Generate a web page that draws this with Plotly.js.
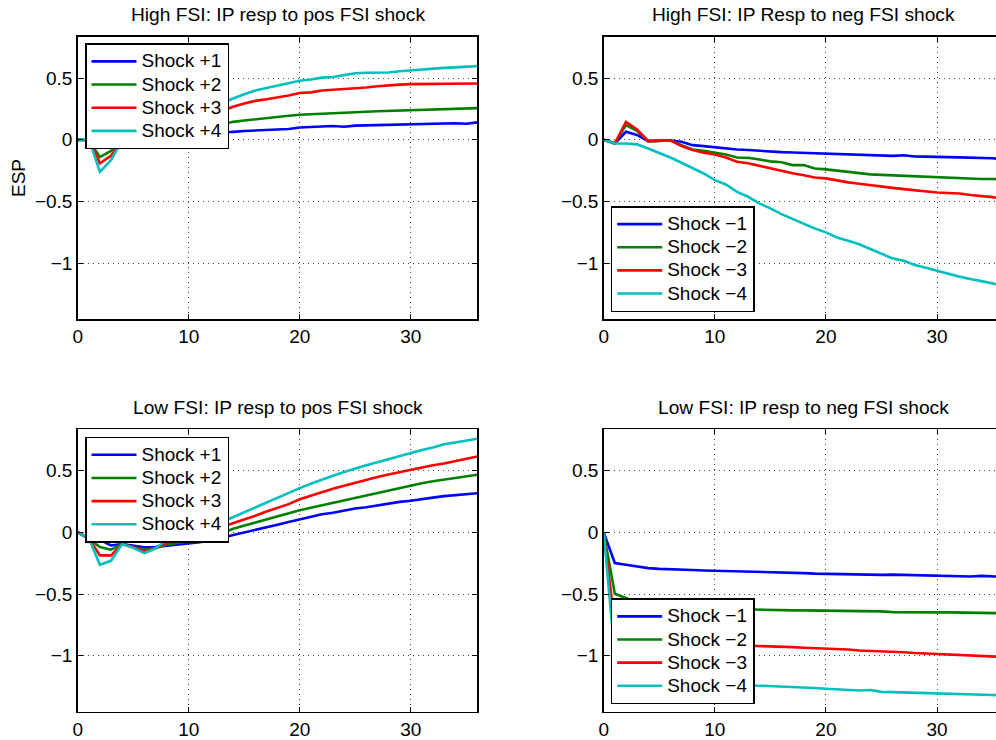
<!DOCTYPE html>
<html>
<head>
<meta charset="utf-8">
<script src="https://cdn.plot.ly/plotly-3.0.1.min.js"></script>
<style>
html,body{margin:0;padding:0;overflow:hidden;background:#fff;}
#chart{width:1004px;height:740px;}
</style>
</head>
<body>
<div id="chart"></div>
<script>
// horizon (months)
const horizon = [0,1,2,3,4,5,6,7,8,9,10,11,12,13,14,15,16,17,18,19,20,21,22,23,24,25,26,27,28,29,30,31,32,33,34,35,36];

const posNames = ["Shock +1","Shock +2","Shock +3","Shock +4"];
const negNames = ["Shock \u22121","Shock \u22122","Shock \u22123","Shock \u22124"];
const titles = [
  "High FSI: IP resp to pos FSI shock",
  "High FSI: IP Resp to neg FSI shock",
  "Low FSI: IP resp to pos FSI shock",
  "Low FSI: IP resp to neg FSI shock"
];
const yLabel = "ESP";
const xTicks = [0,10,20,30];
const yTicks = [-1,-0.5,0,0.5];

// High FSI, positive shocks
const highPos1 = [0,0,-0.065,-0.035,0,-0.005,-0.01,0,0.01,0.02,0.03,0.04,0.05,0.057,0.065,0.072,0.077,0.082,0.087,0.088,0.10,0.104,0.108,0.112,0.106,0.115,0.117,0.12,0.118,0.122,0.127,0.128,0.13,0.133,0.134,0.13,0.142];
const highPos2 = [0,0,-0.14,-0.09,-0.005,-0.01,-0.015,0,0.02,0.04,0.06,0.08,0.10,0.12,0.146,0.157,0.168,0.177,0.187,0.195,0.203,0.208,0.214,0.217,0.22,0.225,0.228,0.232,0.235,0.239,0.243,0.245,0.247,0.249,0.25,0.253,0.257];
const highPos3 = [0,0.005,-0.19,-0.13,-0.005,-0.01,-0.02,0.02,0.05,0.09,0.13,0.17,0.20,0.235,0.268,0.295,0.316,0.33,0.344,0.36,0.38,0.385,0.40,0.405,0.412,0.42,0.425,0.435,0.444,0.448,0.452,0.453,0.453,0.454,0.452,0.455,0.457];
const highPos4 = [0,0.01,-0.26,-0.165,-0.005,-0.02,-0.03,0.02,0.07,0.12,0.17,0.22,0.26,0.30,0.336,0.37,0.40,0.42,0.44,0.46,0.48,0.49,0.505,0.51,0.525,0.54,0.545,0.547,0.547,0.557,0.565,0.57,0.575,0.584,0.588,0.593,0.598];

// High FSI, negative shocks
const highNeg1 = [0,-0.03,0.065,0.04,-0.01,-0.005,-0.005,-0.015,-0.043,-0.051,-0.062,-0.07,-0.078,-0.083,-0.09,-0.098,-0.1,-0.103,-0.106,-0.108,-0.115,-0.113,-0.117,-0.12,-0.123,-0.126,-0.13,-0.125,-0.135,-0.136,-0.14,-0.14,-0.142,-0.143,-0.146,-0.15,-0.157];
const highNeg2 = [0,-0.03,0.12,0.073,-0.01,-0.005,-0.005,-0.043,-0.078,-0.089,-0.102,-0.119,-0.143,-0.146,-0.16,-0.175,-0.182,-0.205,-0.205,-0.232,-0.24,-0.25,-0.26,-0.275,-0.28,-0.284,-0.288,-0.295,-0.298,-0.302,-0.305,-0.31,-0.313,-0.317,-0.318,-0.318,-0.322];
const highNeg3 = [0,-0.03,0.146,0.084,-0.01,-0.005,-0.005,-0.05,-0.083,-0.105,-0.119,-0.143,-0.178,-0.19,-0.212,-0.232,-0.252,-0.272,-0.288,-0.305,-0.313,-0.33,-0.345,-0.357,-0.37,-0.38,-0.39,-0.40,-0.41,-0.42,-0.428,-0.432,-0.436,-0.448,-0.455,-0.465,-0.48];
const highNeg4 = [0,-0.03,-0.03,-0.037,-0.07,-0.105,-0.143,-0.186,-0.232,-0.273,-0.327,-0.362,-0.422,-0.462,-0.516,-0.556,-0.603,-0.643,-0.684,-0.719,-0.751,-0.792,-0.819,-0.848,-0.886,-0.921,-0.962,-0.981,-1.016,-1.038,-1.062,-1.089,-1.11,-1.129,-1.145,-1.165,-1.187];

// Low FSI, positive shocks
const lowPos1 = [0,-0.05,-0.06,-0.105,-0.094,-0.11,-0.121,-0.118,-0.11,-0.1,-0.092,-0.08,-0.062,-0.045,-0.02,0,0.018,0.04,0.062,0.085,0.108,0.125,0.148,0.16,0.18,0.195,0.205,0.22,0.235,0.248,0.258,0.268,0.283,0.295,0.302,0.308,0.318];
const lowPos2 = [0,-0.05,-0.118,-0.14,-0.094,-0.12,-0.14,-0.127,-0.097,-0.086,-0.073,-0.05,-0.03,-0.005,0.03,0.055,0.08,0.105,0.13,0.16,0.18,0.2,0.22,0.24,0.26,0.28,0.3,0.32,0.345,0.365,0.385,0.4,0.415,0.428,0.44,0.455,0.468];
const lowPos3 = [0,-0.045,-0.186,-0.186,-0.094,-0.12,-0.153,-0.127,-0.086,-0.073,-0.045,-0.015,0.01,0.04,0.076,0.105,0.135,0.17,0.2,0.23,0.27,0.3,0.33,0.355,0.38,0.405,0.425,0.45,0.47,0.49,0.51,0.528,0.545,0.56,0.58,0.6,0.616];
const lowPos4 = [0,-0.045,-0.262,-0.23,-0.094,-0.125,-0.167,-0.13,-0.059,-0.045,-0.02,0.01,0.045,0.085,0.125,0.165,0.205,0.24,0.285,0.32,0.36,0.395,0.43,0.46,0.49,0.52,0.545,0.57,0.595,0.625,0.648,0.67,0.69,0.715,0.73,0.745,0.76];

// Low FSI, negative shocks
const lowNeg1 = [0,-0.248,-0.262,-0.275,-0.289,-0.295,-0.3,-0.303,-0.305,-0.308,-0.31,-0.316,-0.318,-0.318,-0.32,-0.322,-0.325,-0.322,-0.33,-0.334,-0.336,-0.336,-0.338,-0.34,-0.344,-0.344,-0.342,-0.344,-0.348,-0.347,-0.352,-0.352,-0.356,-0.357,-0.352,-0.358,-0.36];
const lowNeg2 = [0,-0.497,-0.532,-0.567,-0.578,-0.594,-0.602,-0.608,-0.612,-0.615,-0.618,-0.62,-0.622,-0.625,-0.627,-0.63,-0.635,-0.632,-0.632,-0.633,-0.632,-0.634,-0.636,-0.635,-0.637,-0.64,-0.646,-0.645,-0.644,-0.647,-0.648,-0.648,-0.65,-0.653,-0.651,-0.655,-0.655];
const lowNeg3 = [0,-0.75,-0.8,-0.845,-0.865,-0.88,-0.89,-0.897,-0.902,-0.906,-0.91,-0.913,-0.916,-0.918,-0.922,-0.925,-0.928,-0.93,-0.935,-0.938,-0.945,-0.948,-0.95,-0.958,-0.96,-0.965,-0.97,-0.972,-0.978,-0.982,-0.99,-0.992,-0.995,-0.997,-1.0,-1.005,-1.01];
const lowNeg4 = [0,-1.0,-1.07,-1.13,-1.16,-1.185,-1.2,-1.21,-1.218,-1.225,-1.23,-1.235,-1.238,-1.24,-1.243,-1.246,-1.25,-1.255,-1.26,-1.262,-1.268,-1.272,-1.276,-1.282,-1.278,-1.293,-1.295,-1.297,-1.3,-1.305,-1.308,-1.31,-1.309,-1.312,-1.315,-1.318,-1.322];

const colors = ["#0000ff","#008000","#ff0000","#00bfbf"];
const FONT = "Liberation Sans, Arial, Helvetica, sans-serif";
const TXT = 19;

const panels = [
  {series:[highPos1,highPos2,highPos3,highPos4], names:posNames, xa:"x",  ya:"y",  lg:"legend"},
  {series:[highNeg1,highNeg2,highNeg3,highNeg4], names:negNames, xa:"x2", ya:"y2", lg:"legend2"},
  {series:[lowPos1,lowPos2,lowPos3,lowPos4],     names:posNames, xa:"x3", ya:"y3", lg:"legend3"},
  {series:[lowNeg1,lowNeg2,lowNeg3,lowNeg4],     names:negNames, xa:"x4", ya:"y4", lg:"legend4"}
];

const traces = [];
panels.forEach(p => {
  p.series.forEach((s, i) => {
    traces.push({
      x: horizon, y: s, type: "scatter", mode: "lines",
      name: '<span style="font-size:' + TXT + 'px">' + p.names[i] + '</span>',
      xaxis: p.xa, yaxis: p.ya, legend: p.lg,
      line: {color: colors[i], width: 2.6},
      hoverinfo: "skip"
    });
  });
});

const W = 1004, H = 740;
const leftDom = [77.7/W, 477.3/W];
const rightDom = [603.7/W, 1003.7/W];
const topDom = [(H-319)/H, (H-36.7)/H];
const botDom = [(H-711.7)/H, (H-429.3)/H];

function xaxis(dom, anchor) {
  return {
    domain: dom, anchor: anchor, range: [0, 36],
    tickvals: xTicks, ticks: "inside", ticklen: 5, tickwidth: 1, tickcolor: "#000",
    showline: true, linecolor: "#000", linewidth: 1.5, mirror: "ticks",
    showgrid: true, gridcolor: "#444", gridwidth: 1, griddash: "1px,4px",
    zeroline: false, tickfont: {family: FONT, size: TXT, color: "#000"},
    fixedrange: true
  };
}
function yaxis(dom, anchor) {
  return {
    domain: dom, anchor: anchor, range: [-1.454, 0.837],
    tickvals: yTicks, ticks: "inside", ticklen: 5, tickwidth: 1, tickcolor: "#000",
    showline: true, linecolor: "#000", linewidth: 1.5, mirror: "ticks",
    showgrid: true, gridcolor: "#444", gridwidth: 1, griddash: "1px,4px",
    zeroline: false, tickfont: {family: FONT, size: TXT, color: "#000"},
    fixedrange: true
  };
}
function legend(x, y, yanchor) {
  return {
    x: x, y: y, xanchor: "left", yanchor: yanchor, xref: "paper", yref: "paper",
    bgcolor: "#fff", bordercolor: "#000", borderwidth: 1.5,
    font: {family: FONT, size: 15.5, color: "#000"},
    itemwidth: 45, tracegroupgap: 0
  };
}

const titleY = [14, 14, 407, 407];
const titleX = [(77.7+477.3)/2, (603.7+1003.7)/2, (77.7+477.3)/2, (603.7+1003.7)/2];
const annotations = titles.map((t, i) => ({
  text: t, xref: "paper", yref: "paper",
  x: titleX[i]/W, y: (H-titleY[i])/H, xanchor: "center", yanchor: "middle",
  showarrow: false, font: {family: FONT, size: 19.2, color: "#000"}
}));
annotations.push({
  text: yLabel, xref: "paper", yref: "paper", x: 18/W, y: (H-178)/H,
  xanchor: "center", yanchor: "middle", textangle: -90, showarrow: false,
  font: {family: FONT, size: TXT, color: "#000"}
});

const layout = {
  width: W, height: H,
  margin: {l: 0, r: 0, t: 0, b: 0},
  paper_bgcolor: "#fff", plot_bgcolor: "#fff",
  font: {family: FONT, color: "#000"},
  xaxis: xaxis(leftDom, "y"),
  yaxis: yaxis(topDom, "x"),
  xaxis2: xaxis(rightDom, "y2"),
  yaxis2: yaxis(topDom, "x2"),
  xaxis3: xaxis(leftDom, "y3"),
  yaxis3: yaxis(botDom, "x3"),
  xaxis4: xaxis(rightDom, "y4"),
  yaxis4: yaxis(botDom, "x4"),
  legend:  legend(85/W, (H-43.3)/H, "top"),
  legend2: legend(610.7/W, (H-312)/H, "bottom"),
  legend3: legend(85/W, (H-436.7)/H, "top"),
  legend4: legend(610.7/W, (H-704.3)/H, "bottom"),
  showlegend: true,
  annotations: annotations
};

Plotly.newPlot("chart", traces, layout, {displayModeBar: false, staticPlot: true});
</script>
</body>
</html>
